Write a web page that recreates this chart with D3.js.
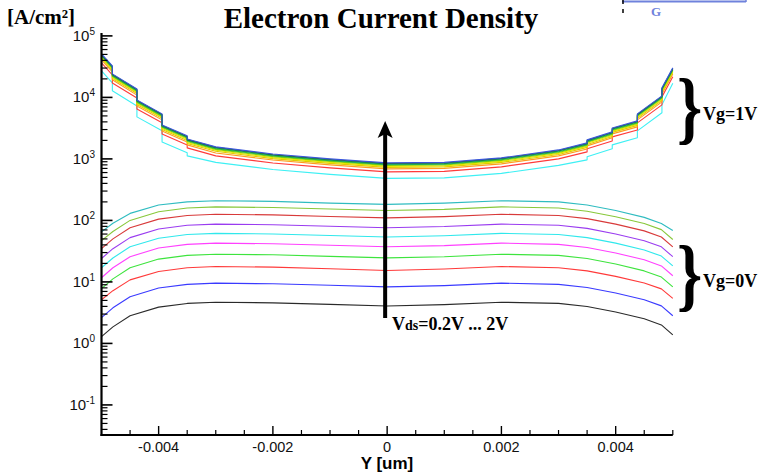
<!DOCTYPE html>
<html><head><meta charset="utf-8">
<script src="https://cdn.jsdelivr.net/npm/d3@7"></script>
<style>body{margin:0;background:#fff}svg{display:block}</style>
</head><body>
<svg id="chart" width="764" height="474"></svg>
<script>
// Channel positions Y [um]
const posVg0 = [-0.005, -0.0048, -0.0045, -0.004, -0.0035, -0.003, -0.002, -0.001, 0, 0.001, 0.002, 0.003, 0.0035, 0.004, 0.0045, 0.0048, 0.005];
const posVg1 = [-0.005, -0.00481, -0.00481, -0.00438, -0.00438, -0.00394, -0.00394, -0.0035, -0.0035, -0.003, -0.002, -0.001, 0, 0.001, 0.002, 0.003, 0.0035, 0.0035, 0.00394, 0.00394, 0.00438, 0.00438, 0.00481, 0.00481, 0.005];

// Electron current density [A/cm2], Vg = 0V, Vds = 0.2V ... 2V
const vg0_02 = [1.29, 1.86, 2.82, 3.89, 4.47, 4.68, 4.57, 4.32, 4.07, 4.27, 4.68, 4.47, 3.98, 3.24, 2.51, 2.00, 1.38];
const vg0_04 = [2.63, 3.79, 5.75, 7.94, 9.12, 9.55, 9.32, 8.81, 8.30, 8.71, 9.55, 9.12, 8.12, 6.61, 5.12, 4.08, 2.82];
const vg0_06 = [5.13, 7.2, 10.8, 14.8, 17.0, 17.8, 17.4, 16.4, 15.3, 16.2, 17.8, 17.0, 15.1, 12.3, 9.6, 7.7, 5.4];
const vg0_08 = [7.77, 11.2, 17.0, 23.5, 27.0, 28.2, 27.6, 26.0, 24.6, 25.7, 28.2, 27.0, 24.0, 19.5, 15.1, 12.0, 8.32];
const vg0_10 = [11.7, 17.0, 25.7, 35.5, 40.8, 42.7, 41.7, 39.4, 37.2, 38.9, 42.7, 40.8, 36.3, 29.5, 22.9, 18.2, 12.6];
const vg0_12 = [17.0, 24.5, 37.2, 51.3, 58.9, 61.6, 60.2, 56.9, 53.7, 56.2, 61.6, 58.9, 52.5, 42.7, 33.1, 26.3, 18.2];
const vg0_14 = [24.0, 34.7, 52.5, 72.4, 83.2, 87.1, 85.1, 80.4, 75.9, 79.4, 87.1, 83.2, 74.1, 60.3, 46.8, 37.2, 25.7];
const vg0_16 = [34.7, 50.1, 75.9, 105, 120, 126, 123, 116, 110, 115, 126, 120, 107, 87.1, 67.6, 53.7, 37.2];
const vg0_18 = [46.8, 66.1, 100, 138, 159, 166, 162, 153, 145, 151, 166, 159, 141, 115, 89.1, 70.8, 49.0];
const vg0_20 = [65.0, 90, 130, 178, 200, 209, 204, 191, 182, 191, 209, 200, 178, 145, 112, 89, 68.5];

// Electron current density [A/cm2], Vg = 1V, Vds = 0.2V ... 2V
const vg1_02 = [27000, 17200, 12800, 7260, 4820, 2860, 1890, 1260, 1120, 879, 672, 560, 482, 491, 582, 784, 965, 1080, 1460, 1690, 2200, 2860, 5620, 7580, 17000];
const vg1_04 = [36300, 23200, 17200, 9780, 6500, 3860, 2550, 1690, 1510, 1120, 857, 714, 615, 626, 743, 1000, 1300, 1460, 1960, 2280, 2960, 3860, 7570, 10200, 21600];
const vg1_06 = [40700, 26000, 19300, 10900, 7270, 4310, 2850, 1890, 1690, 1250, 959, 799, 688, 701, 831, 1120, 1450, 1630, 2200, 2550, 3320, 4310, 8470, 11400, 24100];
const vg1_08 = [43000, 27500, 20400, 11600, 7690, 4560, 3020, 2000, 1780, 1330, 1010, 845, 728, 741, 879, 1180, 1540, 1720, 2320, 2700, 3510, 4560, 8960, 12100, 25500];
const vg1_10 = [44600, 28500, 21100, 12000, 7980, 4740, 3130, 2080, 1850, 1380, 1050, 877, 755, 769, 912, 1230, 1600, 1790, 2410, 2800, 3640, 4740, 9300, 12500, 26500];
const vg1_12 = [46300, 29600, 21900, 12500, 8280, 4910, 3250, 2160, 1920, 1430, 1090, 910, 784, 798, 946, 1270, 1660, 1860, 2500, 2900, 3780, 4910, 9650, 13000, 27500];
const vg1_14 = [47600, 30400, 22500, 12800, 8510, 5050, 3340, 2220, 1970, 1470, 1120, 935, 805, 820, 972, 1310, 1700, 1910, 2570, 2980, 3880, 5050, 9910, 13400, 28200];
const vg1_16 = [48700, 31100, 23000, 13100, 8700, 5160, 3410, 2270, 2020, 1500, 1150, 956, 823, 838, 994, 1340, 1740, 1950, 2630, 3050, 3970, 5160, 10100, 13700, 28900];
const vg1_18 = [49800, 31800, 23600, 13400, 8900, 5280, 3490, 2320, 2060, 1540, 1170, 978, 842, 858, 1020, 1370, 1780, 2000, 2690, 3120, 4060, 5280, 10400, 14000, 29500];
const vg1_20 = [50900, 32500, 24100, 13700, 9100, 5400, 3570, 2370, 2110, 1570, 1200, 1000, 861, 877, 1040, 1400, 1820, 2040, 2750, 3190, 4150, 5400, 10600, 14300, 30200];

const colorsVg0 = ["#2a2a2a", "#3a3aff", "#ff3a3a", "#3ee43e", "#ff40ff", "#30e8ec", "#9a3cf0", "#d83a3a", "#88c83a", "#2fbcc0"];
const colorsVg1 = ["#3ef0f4", "#ff3a3a", "#ff9a20", "#e0c800", "#e8e800", "#9ad400", "#30c030", "#14a070", "#1f6a2a", "#3a56dc"];

const seriesVg0 = [vg0_02, vg0_04, vg0_06, vg0_08, vg0_10, vg0_12, vg0_14, vg0_16, vg0_18, vg0_20];
const seriesVg1 = [vg1_02, vg1_04, vg1_06, vg1_08, vg1_10, vg1_12, vg1_14, vg1_16, vg1_18, vg1_20];

const xMajorTicks = [-0.004, -0.002, 0, 0.002, 0.004];
const xTickLabels = ["-0.004", "-0.002", "0", "0.002", "0.004"];
const yMajorExps = [-1, 0, 1, 2, 3, 4, 5];

const svg = d3.select("#chart");
const x = d3.scaleLinear().domain([-0.005, 0.005]).range([101.5, 672.8]);
const y = d3.scaleLog().domain([Math.pow(10, -1.489), Math.pow(10, 5.047)]).range([435, 33]);

const serif = "'Liberation Serif', 'Times New Roman', serif";
const sans = "'Liberation Sans', Arial, Helvetica, sans-serif";

// curves
function drawGroup(positions, series, colors) {
  const line = d3.line().x((d, i) => x(positions[i])).y(d => y(d));
  svg.append("g").selectAll("path").data(series).join("path")
    .attr("d", d => line(d))
    .attr("fill", "none")
    .attr("stroke", (d, i) => colors[i])
    .attr("stroke-width", 1.1)
    .attr("stroke-linejoin", "round");
}
drawGroup(posVg0, seriesVg0, colorsVg0);
drawGroup(posVg1, seriesVg1, colorsVg1);

// axes
const axes = svg.append("g").attr("stroke", "#000");
const x0 = x(-0.005), yb = y.range()[0], yt = y.range()[1];
axes.append("line").attr("x1", x0).attr("x2", x0).attr("y1", yt).attr("y2", yb + 1).attr("stroke-width", 2.2);
axes.append("line").attr("x1", x0 - 1).attr("x2", x(0.005)).attr("y1", yb).attr("y2", yb).attr("stroke-width", 2);

// x ticks (inward)
const xMinor = d3.range(-10, 11).map(k => k * 0.0005).filter(v => !xMajorTicks.some(m => Math.abs(m - v) < 1e-9) && v > -0.0049);
axes.selectAll(".xmin").data(xMinor).join("line")
  .attr("x1", d => x(d)).attr("x2", d => x(d)).attr("y1", yb).attr("y2", yb - 5).attr("stroke-width", 1.2);
axes.selectAll(".xmaj").data(xMajorTicks).join("line")
  .attr("x1", d => x(d)).attr("x2", d => x(d)).attr("y1", yb).attr("y2", yb - 9).attr("stroke-width", 1.4);
svg.append("g").selectAll("text").data(xMajorTicks).join("text")
  .attr("x", d => x(d)).attr("y", 452)
  .attr("text-anchor", "middle")
  .attr("font-family", sans).attr("font-size", 14.5).attr("fill", "#111")
  .text((d, i) => xTickLabels[i]);

// y ticks (inward)
const yMinor = [];
yMajorExps.forEach(e => { for (let m = 2; m <= 9; m++) { const v = m * Math.pow(10, e); if (v >= y.domain()[0] && v <= y.domain()[1]) yMinor.push(v); } });
const lowDecade = Math.pow(10, -2);
for (let m = 2; m <= 9; m++) { const v = m * lowDecade; if (v >= y.domain()[0]) yMinor.push(v); }
axes.selectAll(".ymin").data(yMinor).join("line")
  .attr("x1", x0).attr("x2", x0 + 6).attr("y1", d => y(d)).attr("y2", d => y(d)).attr("stroke-width", 1.2);
axes.selectAll(".ymaj").data(yMajorExps).join("line")
  .attr("x1", x0).attr("x2", x0 + 11).attr("y1", d => y(Math.pow(10, d))).attr("y2", d => y(Math.pow(10, d))).attr("stroke-width", 1.6);
const yl = svg.append("g").selectAll("text").data(yMajorExps).join("text")
  .attr("x", 95).attr("y", d => y(Math.pow(10, d)) + 5)
  .attr("text-anchor", "end")
  .attr("font-family", sans).attr("font-size", 15).attr("fill", "#111");
yl.append("tspan").text("10");
yl.append("tspan").attr("dy", -6).attr("font-size", 10).text(d => String(d));

// titles
svg.append("text").attr("x", 381).attr("y", 28).attr("text-anchor", "middle")
  .attr("font-family", serif).attr("font-weight", "bold").attr("font-size", 29).text("Electron Current Density");
svg.append("text").attr("x", 7).attr("y", 24)
  .attr("font-family", serif).attr("font-weight", "bold").attr("font-size", 21).text("[A/cm²]");
svg.append("text").attr("x", 387).attr("y", 469).attr("text-anchor", "middle")
  .attr("font-family", sans).attr("font-weight", "bold").attr("font-size", 17).text("Y [um]");

// braces with gate voltage labels
function brace(yTop, label) {
  svg.append("text").attr("transform", `translate(677,${yTop + 56}) scale(0.8,1)`)
    .attr("font-family", serif).attr("font-weight", "bold").attr("font-size", 80).text("}");
  svg.append("text").attr("x", 703).attr("y", yTop + 42)
    .attr("font-family", serif).attr("font-weight", "bold").attr("font-size", 18).text(label);
}
brace(78, "Vg=1V");
brace(245, "Vg=0V");

// Vds sweep arrow
const ax = x(0) - 2;
svg.append("line").attr("x1", ax).attr("x2", ax).attr("y1", 318).attr("y2", 132)
  .attr("stroke", "#000").attr("stroke-width", 4);
svg.append("path").attr("d", `M${ax},121 L${ax + 7.5},138 L${ax},134 L${ax - 7.5},138 Z`).attr("fill", "#000");
const vds = svg.append("text").attr("x", 392).attr("y", 330)
  .attr("font-family", serif).attr("font-weight", "bold").attr("font-size", 18);
vds.append("tspan").text("V");
vds.append("tspan").attr("font-size", 14).text("ds");
vds.append("tspan").text("=0.2V ... 2V");

// gate marker in the upper right corner
svg.append("line").attr("x1", 622).attr("x2", 746).attr("y1", 1.5).attr("y2", 1.5).attr("stroke", "#6f82dc").attr("stroke-width", 2);
svg.append("line").attr("x1", 746).attr("x2", 746).attr("y1", 0).attr("y2", 2).attr("stroke", "#6f82dc").attr("stroke-width", 1.5);
svg.append("line").attr("x1", 623).attr("x2", 623).attr("y1", 0).attr("y2", 15).attr("stroke", "#000").attr("stroke-width", 1.5).attr("stroke-dasharray", "4,5");
svg.append("text").attr("x", 651).attr("y", 16)
  .attr("font-family", serif).attr("font-weight", "bold").attr("font-size", 13).attr("fill", "#6f82dc").text("G");
</script>
</body></html>
